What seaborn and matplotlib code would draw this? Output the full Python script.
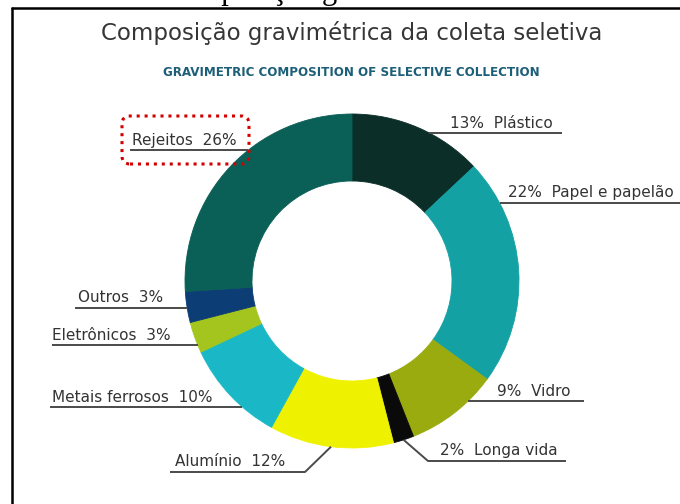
import matplotlib
matplotlib.use("Agg")
import matplotlib.pyplot as plt
from matplotlib.patches import FancyBboxPatch
from matplotlib.lines import Line2D
import seaborn as sns
import numpy as np

# ---------------- data ----------------
categories = ["Plástico", "Papel e papelão", "Vidro", "Longa vida", "Alumínio",
              "Metais ferrosos", "Eletrônicos", "Outros", "Rejeitos"]
values = [13, 22, 9, 2, 12, 10, 3, 3, 26]
colors = ["#0b2e29", "#14a1a4", "#9aab0f", "#0a0a0a", "#eef200",
          "#1ab8c6", "#a4c51d", "#0c3d74", "#0a5f57"]

title = "Composição gravimétrica da coleta seletiva"
subtitle = "GRAVIMETRIC COMPOSITION OF SELECTIVE COLLECTION"

# ---------------- layout (pixels, y measured from top) ----------------
W, H = 680, 504
CX, CY, R, RING = 352, 281, 167, 67
side = ["R", "R", "R", "R", "L", "L", "L", "L", "L"]
line_y = [133, 203, 401, 461, 472, 407, 345, 308, 150]
text_x = [450, 508, 497, 440, 175, 52, 52, 78, 132]
line_far = [562, 680, 584, 566, 170, 50, 52, 75, 130]
kinked = [False, False, False, True, True, False, False, False, False]
kink_x = [None, None, None, 428, 305, None, None, None, None]

sns.set_theme(style="white")
plt.rcParams["font.family"] = ["DejaVu Sans"]

fig = plt.figure(figsize=(W / 100, H / 100), dpi=100)
fig.patch.set_facecolor("white")
ax = fig.add_axes([0, 0, 1, 1])


def Y(py):
    return H - py


wedges, _ = ax.pie(values, colors=colors, startangle=90, counterclock=False,
                   radius=R, center=(CX, Y(CY)),
                   wedgeprops=dict(width=RING, linewidth=0.6))
for w, c in zip(wedges, colors):
    w.set_edgecolor(c)

ax.set_xlim(0, W)
ax.set_ylim(0, H)
ax.set_aspect("equal")
ax.axis("off")

line_col = "#4a4a4a"
text_col = "#333333"
cum = np.cumsum([0] + values)
total = float(sum(values))
for i, (cat, v) in enumerate(zip(categories, values)):
    ly = line_y[i]
    if kinked[i]:
        mid = (cum[i] + v / 2.0) / total * 2 * np.pi
        ex = CX + R * np.sin(mid)
        ey = CY + R * np.cos(mid) * -1 * -1
        ey = CY - R * np.cos(mid)
        xs = [ex, kink_x[i], line_far[i]]
        ys = [Y(ey), Y(ly), Y(ly)]
    else:
        dx = np.sqrt(max(R ** 2 - (ly - CY) ** 2, 0))
        near = CX + dx if side[i] == "R" else CX - dx
        xs = [near, line_far[i]]
        ys = [Y(ly), Y(ly)]
    ax.plot(xs, ys, color=line_col, lw=1.4, solid_capstyle="butt")
    label = f"{v}%  {cat}" if side[i] == "R" else f"{cat}  {v}%"
    ax.text(text_x[i], Y(ly - 2.5), label, ha="left", va="bottom",
            fontsize=11, color=text_col)

# dotted highlight box around "Rejeitos"
box = FancyBboxPatch((122, Y(164)), 127, 48,
                     boxstyle="round,pad=0,rounding_size=8",
                     fill=False, edgecolor="#d40000", lw=2.2,
                     linestyle=(0, (1, 1.6)))
ax.add_patch(box)

# titles
ax.text(W / 2 + 12, Y(33), title, ha="center", va="center",
        fontsize=16.5, color="#363636")
ax.text(W / 2 + 11, Y(73), subtitle, ha="center", va="center",
        fontsize=9.5, fontweight="bold", fontstretch="condensed",
        color="#1d5e78")

# cropped caption above the frame
ax.text(162, H + 1.5, title, ha="left", va="baseline",
        fontsize=22, family="Liberation Serif", color="black")

# frame
fig.add_artist(Line2D([12 / W, 1], [1 - 8 / H, 1 - 8 / H],
                      color="black", lw=1.8, transform=fig.transFigure))
fig.add_artist(Line2D([12 / W, 12 / W], [0, 1 - 8 / H],
                      color="black", lw=1.8, transform=fig.transFigure))

fig.savefig("out.png", dpi=100, facecolor="white")
